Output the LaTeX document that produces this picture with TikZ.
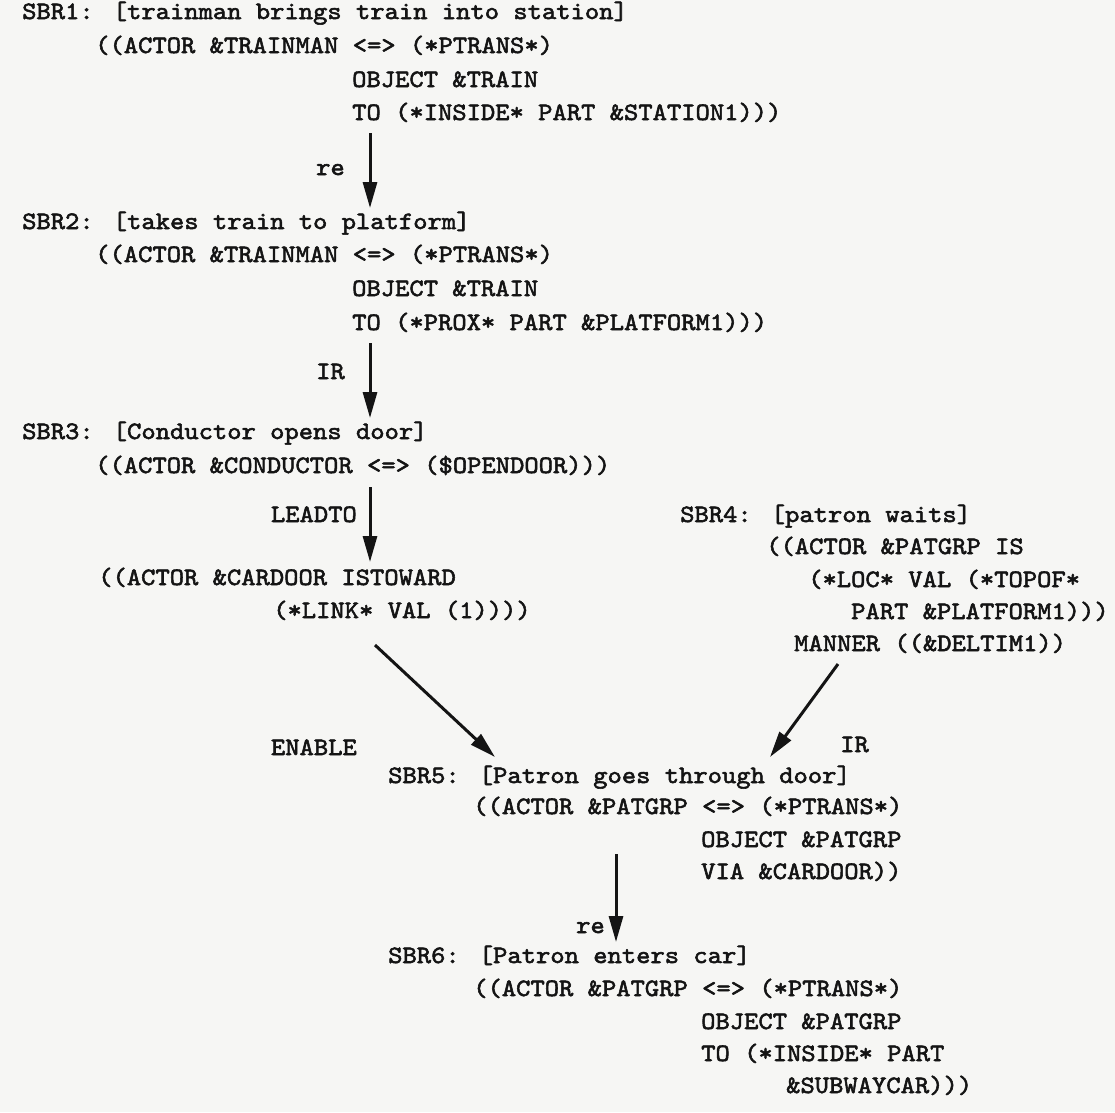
\documentclass[tikz,border=0pt]{standalone}
\usepackage{fontspec}
\usetikzlibrary{arrows.meta}
\newfontfamily\tw{lmmono10-regular.otf}[FakeStretch=1.09,FakeBold=2.2]
\definecolor{paper}{RGB}{246,246,244}
\definecolor{ink}{RGB}{20,20,20}
\tikzset{
  txt/.style={anchor=base west, inner sep=0pt, font=\tw\fontsize{25}{25}\selectfont, text=ink},
  lbl/.style={txt, anchor=base east},
  arr/.style={draw=ink, line width=3pt, -{Triangle[length=26pt,width=14pt]}}
}
\begin{document}
\begin{tikzpicture}[x=1pt,y=-1pt]
\fill[paper] (0,0) rectangle (1115,1112);
\useasboundingbox (0,0) rectangle (1115,1112);
% SBR1
\node[txt] (s1a) at (22,19) {SBR1: [trainman brings train into station]};
\node[txt] (s1b) at (95,53) {((ACTOR \&TRAINMAN <=> (*PTRANS*)};
\node[txt] (s1c) at (352,87) {OBJECT \&TRAIN};
\node[txt] (s1d) at (352,120) {TO (*INSIDE* PART \&STATION1)))};
% SBR2
\node[txt] (s2a) at (22,229) {SBR2: [takes train to platform]};
\node[txt] (s2b) at (95,262) {((ACTOR \&TRAINMAN <=> (*PTRANS*)};
\node[txt] (s2c) at (352,296) {OBJECT \&TRAIN};
\node[txt] (s2d) at (352,330) {TO (*PROX* PART \&PLATFORM1)))};
% SBR3
\node[txt] (s3a) at (22,439) {SBR3: [Conductor opens door]};
\node[txt] (s3b) at (95,473) {((ACTOR \&CONDUCTOR <=> (\$OPENDOOR)))};
\node[txt] (cda) at (98,585) {((ACTOR \&CARDOOR ISTOWARD};
\node[txt] (cdb) at (273,618) {(*LINK* VAL (1))))};
% SBR4
\node[txt] (s4a) at (680,522) {SBR4: [patron waits]};
\node[txt] (s4b) at (766,554) {((ACTOR \&PATGRP IS};
\node[txt] (s4c) at (808,587) {(*LOC* VAL (*TOPOF*};
\node[txt] (s4d) at (851,619) {PART \&PLATFORM1)))};
\node[txt] (s4e) at (794,651) {MANNER ((\&DELTIM1))};
% SBR5
\node[txt] (s5a) at (388,783) {SBR5: [Patron goes through door]};
\node[txt] (s5b) at (473,814) {((ACTOR \&PATGRP <=> (*PTRANS*)};
\node[txt] (s5c) at (701,847) {OBJECT \&PATGRP};
\node[txt] (s5d) at (701,879) {VIA \&CARDOOR))};
% SBR6
\node[txt] (s6a) at (388,963) {SBR6: [Patron enters car]};
\node[txt] (s6b) at (473,996) {((ACTOR \&PATGRP <=> (*PTRANS*)};
\node[txt] (s6c) at (701,1029) {OBJECT \&PATGRP};
\node[txt] (s6d) at (701,1061) {TO (*INSIDE* PART};
\node[txt] (s6e) at (786,1093) {\&SUBWAYCAR)))};
% arrow end points
\coordinate (a1s) at (370,133); \coordinate (a1e) at (370,208);
\coordinate (a2s) at (370,343); \coordinate (a2e) at (370,418);
\coordinate (a3s) at (370,487); \coordinate (a3e) at (370,562);
\coordinate (a4s) at (375,645); \coordinate (a4e) at (495,757);
\coordinate (a5s) at (838,664); \coordinate (a5e) at (770,757);
\coordinate (a6s) at (616,854); \coordinate (a6e) at (616,942);
\draw[arr] (a1s) -- (a1e);
\draw[arr] (a2s) -- (a2e);
\draw[arr] (a3s) -- (a3e);
\draw[arr] (a4s) -- (a4e);
\draw[arr] (a5s) -- (a5e);
\draw[arr] (a6s) -- (a6e);
% labels
\node[lbl] (l1) at (345,175) {re};
\node[lbl] (l2) at (345,379) {IR};
\node[lbl] (l3) at (357,522) {LEADTO};
\node[lbl] (l4) at (357,755) {ENABLE};
\node[txt] (l5) at (840,752) {IR};
\node[lbl] (l6) at (605,933) {re};
\end{tikzpicture}
\end{document}
